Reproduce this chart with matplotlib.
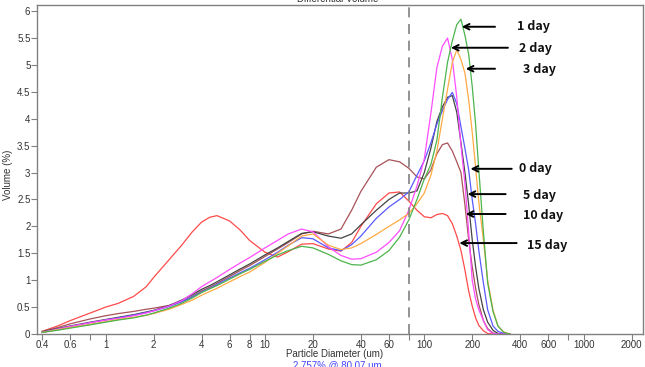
import matplotlib
matplotlib.use("Agg")
import matplotlib.pyplot as plt

# ---------------- data ----------------
diameter = [0.4, 0.5, 0.6, 0.8, 1, 1.2, 1.5, 1.8, 2, 2.5, 3, 3.5, 4, 4.5, 5, 6, 7, 8,
            10, 12, 14, 17, 20, 25, 30, 35, 40, 50,
            60, 70, 80, 90, 100, 110, 120, 130, 140, 150, 160, 170, 180, 190, 200, 210,
            220, 235, 250, 270, 290, 315, 345]

day15 = [0.05, 0.15, 0.25, 0.39, 0.50, 0.57, 0.70, 0.88, 1.05, 1.38, 1.65, 1.90, 2.08, 2.17, 2.20,
         2.10, 1.93, 1.74,
         1.52, 1.43, 1.53, 1.67, 1.68,
         1.58, 1.54, 1.70, 2.00, 2.42, 2.62, 2.64, 2.47, 2.30, 2.18, 2.16, 2.22, 2.24, 2.20, 2.05,
         1.82, 1.55, 1.19, 0.80, 0.52, 0.30, 0.16, 0.06, 0.01, 0, 0, 0, 0]
day2 = [0.03, 0.09, 0.14, 0.21, 0.26, 0.29, 0.34, 0.39, 0.43, 0.52, 0.62, 0.75, 0.88, 0.97, 1.05,
        1.20, 1.32, 1.42,
        1.60, 1.74, 1.86, 1.95, 1.90,
        1.62, 1.46, 1.39, 1.40, 1.52, 1.70, 1.92, 2.30, 2.75, 3.25, 4.10, 4.95, 5.35, 5.50, 5.10,
        4.40, 3.50, 2.80, 1.90, 1.00, 0.65, 0.45, 0.25, 0.08, 0.01, 0, 0, 0]
day5 = [0.04, 0.10, 0.15, 0.22, 0.27, 0.31, 0.36, 0.41, 0.44, 0.53, 0.63, 0.73, 0.83, 0.90, 0.97,
        1.10, 1.21, 1.30,
        1.47, 1.60, 1.72, 1.87, 1.90,
        1.82, 1.78, 1.86, 2.03, 2.30, 2.50, 2.62, 2.62, 2.66, 3.00, 3.45, 3.95, 4.22, 4.40, 4.43,
        4.12, 3.55, 3.00, 2.40, 1.75, 1.25, 0.85, 0.45, 0.22, 0.07, 0.01, 0, 0]
day0 = [0.03, 0.09, 0.14, 0.21, 0.26, 0.30, 0.35, 0.40, 0.43, 0.51, 0.60, 0.69, 0.78, 0.85, 0.92,
        1.04, 1.14, 1.22,
        1.38, 1.52, 1.65, 1.79, 1.77,
        1.60, 1.55, 1.66, 1.82, 2.15, 2.36, 2.50, 2.64, 2.95, 3.22, 3.55, 3.90, 4.15, 4.36, 4.49,
        4.28, 3.85, 3.45, 3.05, 2.50, 2.05, 1.55, 0.95, 0.45, 0.15, 0.05, 0.01, 0]
day10 = [0.05, 0.12, 0.19, 0.28, 0.34, 0.38, 0.42, 0.46, 0.48, 0.53, 0.60, 0.70, 0.80, 0.87, 0.94,
         1.07, 1.18, 1.27,
         1.44, 1.58, 1.70, 1.86, 1.91,
         1.86, 1.95, 2.30, 2.65, 3.10, 3.24, 3.20, 3.08, 2.92, 2.88, 3.05, 3.35, 3.52, 3.55, 3.40,
         3.20, 3.00, 2.40, 1.75, 1.25, 0.85, 0.55, 0.25, 0.10, 0.02, 0, 0, 0]
day3 = [0.03, 0.08, 0.12, 0.18, 0.23, 0.27, 0.31, 0.35, 0.38, 0.46, 0.55, 0.63, 0.72, 0.79, 0.85,
        0.97, 1.07, 1.15,
        1.33, 1.50, 1.64, 1.82, 1.86,
        1.65, 1.57, 1.60, 1.68, 1.85, 2.00, 2.12, 2.24, 2.42, 2.62, 2.95, 3.40, 4.00, 4.55, 5.05,
        5.28, 5.10, 4.85, 4.35, 3.75, 3.10, 2.45, 1.75, 1.00, 0.45, 0.15, 0.04, 0]
day1 = [0.03, 0.07, 0.11, 0.17, 0.22, 0.26, 0.30, 0.35, 0.39, 0.48, 0.57, 0.67, 0.77, 0.84, 0.90,
        1.02, 1.12, 1.20,
        1.35, 1.47, 1.55, 1.63, 1.60,
        1.48, 1.36, 1.29, 1.28, 1.38, 1.55, 1.80, 2.12, 2.50, 2.88, 3.15, 3.60, 4.40, 5.05, 5.45,
        5.75, 5.85, 5.55, 5.20, 4.60, 3.90, 3.05, 1.90, 0.95, 0.42, 0.15, 0.03, 0]

series = [
    (day15, "#ff4a4a"),
    (day10, "#a85258"),
    (day5, "#444444"),
    (day0, "#5a5aff"),
    (day2, "#ff4dff"),
    (day3, "#ffaa44"),
    (day1, "#4cb44c"),
]

tick_vals = [0.4, 0.6, 0.8, 1, 2, 4, 6, 8, 10, 20, 40, 60, 80, 100, 200, 400, 600, 800, 1000, 2000]
tick_labels = ["0.4", "0.6", "", "1", "2", "4", "6", "8", "10", "20", "40", "60", "", "100",
               "200", "400", "600", "", "1000", "2000"]
y_ticks = [0, 0.5, 1, 1.5, 2, 2.5, 3, 3.5, 4, 4.5, 5, 5.5, 6]
y_tick_labels = ["0", "0.5", "1", "1.5", "2", "2.5", "3", "3.5", "4", "4.5", "5", "5.5", "6"]

marker_d = 80.07
labels = ["1 day", "2 day", "3 day", "0 day", "5 day", "10 day", "15 day"]

# ---------------- figure ----------------
plt.rcParams["font.family"] = ["Liberation Sans", "DejaVu Sans"]
fig = plt.figure(figsize=(6.45, 3.67), dpi=100)
ax = fig.add_axes([0.0569, 0.0899, 0.9395, 0.8973])

for vals, col in series:
    ax.plot(diameter, vals, color=col, lw=0.9)

ax.axvline(marker_d, color="#808080", lw=1.2, dashes=(6, 4))

ax.set_xscale("log")
ax.set_xlim(0.369, 2350)
ax.set_ylim(0, 6.12)
ax.set_xticks(tick_vals)
ax.set_xticklabels(tick_labels)
ax.xaxis.set_minor_locator(matplotlib.ticker.NullLocator())
ax.set_yticks(y_ticks)
ax.set_yticklabels(y_tick_labels)

for s in ax.spines.values():
    s.set_color("#808080")
    s.set_linewidth(1.0)
ax.tick_params(axis="both", direction="out", length=4, width=0.8, color="#808080",
               labelsize=7, labelcolor="#333333", pad=0.5)

fig.text(8 / 645, 1 - 175 / 367, "Volume (%)", rotation=90, ha="center", va="center",
         fontsize=7, color="#333333")
fig.text(335 / 645, 1 - 354 / 367, "Particle Diameter (um)", ha="center", va="center",
         fontsize=7, color="#333333")
fig.text(337 / 645, 1 - 365 / 367, "2.757% @ 80.07 um", ha="center", va="center",
         fontsize=7, color="#4444ff")
fig.text(338 / 645, 1 - 1.5 / 367, "Differential Volume", ha="center", va="baseline",
         fontsize=7, color="#333333")

# arrows: (tail_d, tip_d, y) and text positions (d, y)
arrows = [(278, 172, 5.71), (335, 147, 5.32), (278, 182, 4.93), (354, 195, 3.07),
          (324, 187, 2.60), (324, 182, 2.23), (380, 166, 1.69)]
text_pos = [(380, 5.71), (393, 5.30), (417, 4.91), (393, 3.07), (417, 2.57), (417, 2.21),
            (439, 1.65)]
for lab, (t0, t1, yy), (tx, ty) in zip(labels, arrows, text_pos):
    ax.annotate("", xy=(t1, yy), xytext=(t0, yy),
                arrowprops=dict(arrowstyle="->", color="black", lw=1.4,
                                shrinkA=0, shrinkB=0, mutation_scale=10))
    ax.text(tx, ty, lab, ha="left", va="center", fontsize=9, fontweight="bold",
            family=["Noto Sans CJK KR", "DejaVu Sans"], color="#111111")

fig.savefig("out.png", dpi=100)
